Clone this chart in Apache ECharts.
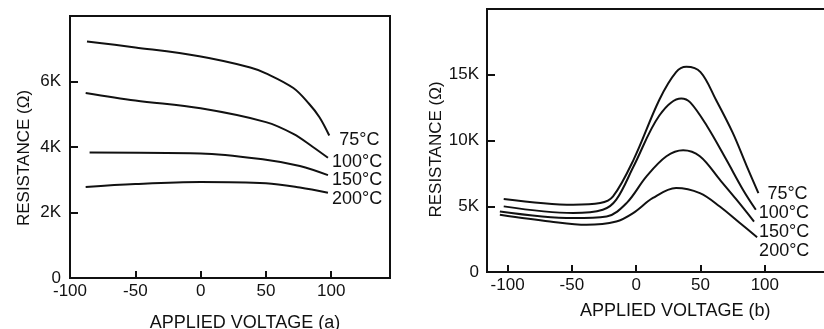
<!DOCTYPE html>
<html>
<head>
<meta charset="utf-8">
<script src="https://cdn.jsdelivr.net/npm/echarts@6/dist/echarts.min.js"></script>
<style>
  html, body { margin: 0; padding: 0; background: #fff; }
  #chart { width: 824px; height: 329px; }
</style>
</head>
<body>
<div id="chart"></div>
<script>
// Panel (a): resistance (kΩ) vs applied voltage (V)
const aV75  = [-87, -50, -1, 38, 50, 71, 83, 91, 98.5];
const aR75  = [7.22, 7.04, 6.77, 6.43, 6.25, 5.80, 5.32, 4.91, 4.35];
const aV100 = [-88, -50, 0, 50, 71, 86, 97.5];
const aR100 = [5.65, 5.42, 5.18, 4.76, 4.40, 4.00, 3.67];
const aV150 = [-85, 0, 50, 76, 97.5];
const aR150 = [3.83, 3.80, 3.61, 3.42, 3.14];
const aV200 = [-88, -50, 0, 50, 76, 97.5];
const aR200 = [2.78, 2.87, 2.93, 2.89, 2.76, 2.60];

// Panel (b)
const bV75  = [-103, -49, -28, -18, -2, 18, 31, 39, 50, 62, 75, 86, 95];
const bR75  = [5.55, 5.11, 5.24, 5.75, 8.55, 13.1, 15.2, 15.6, 15.2, 13.1, 10.6, 8.04, 6.0];
const bV100 = [-103, -49, -26, -15.5, -2, 18, 35, 42, 55, 70, 83, 93];
const bR100 = [4.99, 4.48, 4.73, 5.5, 8.04, 11.9, 13.2, 12.9, 11.1, 8.55, 6.26, 4.73];
const bV150 = [-106, -49, -23, -7.5, 8, 23.5, 36.5, 49.5, 65, 78, 91.6];
const bR150 = [4.6, 4.1, 4.22, 5.24, 7.27, 8.8, 9.26, 8.8, 7.02, 5.5, 3.84];
const bV200 = [-106, -67, -38.6, -15.5, -2.4, 13, 31, 49.5, 65, 80.6, 94];
const bR200 = [4.35, 3.84, 3.59, 3.84, 4.48, 5.63, 6.39, 6.0, 4.98, 3.72, 2.65];

const tempLabels = ['75°C', '100°C', '150°C', '200°C'];
const voltStep = 50;       // V between voltage ticks
const voltTickMax = 100;   // last labelled voltage tick
const FONT = "'Liberation Sans', Arial, sans-serif";
const INK = '#111';

// Panel (b) voltage range and pixel scale: the axis frame starts a little
// left of -100 V, so its voltage ticks live on a companion axis starting at -100.
const bMin = -116, bMax = 146, bLeft = 487, bWidth = 337;
const bScale = bWidth / (bMax - bMin);

// Grid rectangles (fixed; no automatic shrinking to fit labels)
const rect = (r) => Object.assign({ outerBoundsMode: 'none', containLabel: false }, r);
const rectA = { left: 70, top: 16, width: 320, height: 262 };
const rectB = { left: bLeft, top: 9, width: bWidth, height: 263 };
const rectBV = { left: bLeft + (-100 - bMin) * bScale, top: 9, width: (voltTickMax + 100) * bScale, height: 263 };

const zip = (xs, ys) => xs.map((x, i) => [x, ys[i]]);
const ls = () => ({ color: INK, width: 2 });
const textStyle = (size, extra) => Object.assign({ color: INK, fontFamily: FONT, fontSize: size }, extra);
const inTick = (len) => ({ show: true, inside: true, length: len, lineStyle: ls() });

function curve(name, xs, ys, xi, yi, offset) {
  return {
    type: 'line', name, xAxisIndex: xi, yAxisIndex: yi,
    data: zip(xs, ys), smooth: 0.35, symbol: 'none', clip: false,
    lineStyle: ls(),
    endLabel: textStyle(18, { show: true, formatter: name, distance: 0, offset: offset, align: 'left' }),
    silent: true, animation: false
  };
}

const voltLabel = () => textStyle(17, {
  margin: 5, formatter: v => (v > voltTickMax ? '' : String(v))
});

// Resistance axis with labels and title
function yAxisFor(gi, max, step, gap, pad, margin) {
  return {
    gridIndex: gi, type: 'value', min: 0, max, interval: step,
    axisLine: { show: true, onZero: false, lineStyle: ls() },
    axisTick: inTick(8),
    axisLabel: textStyle(17, {
      margin, formatter: v => (v === 0 ? '0' : v === max ? '' : v + 'K')
    }),
    splitLine: { show: false },
    name: 'RESISTANCE (Ω)', nameLocation: 'middle', nameGap: gap,
    nameTextStyle: textStyle(17, { padding: [0, pad, 0, 0] })
  };
}

// Plain axis carrying only a line and inward tick marks
function tickAxis(gi, min, max, step, len, showTicks, showLine) {
  const ax = {
    gridIndex: gi, type: 'value', min, max,
    axisLine: { show: showLine, onZero: false, lineStyle: ls() },
    axisTick: showTicks ? inTick(len) : { show: false },
    axisLabel: { show: false },
    splitLine: { show: false }
  };
  if (step) ax.interval = step;
  return ax;
}

const option = {
  backgroundColor: '#fff',
  animation: false,
  grid: [
    rect(Object.assign({ show: true, borderColor: INK, borderWidth: 2 }, rectA)), // 0: panel (a)
    rect(rectB),   // 1: panel (b)
    rect(rectBV),  // 2: panel (b) voltage labels
    rect(rectA),   // 3: panel (a) ticks
    rect(rectB),   // 4: panel (b) resistance ticks
    rect(rectBV)   // 5: panel (b) voltage ticks
  ],
  xAxis: [
    {
      gridIndex: 0, type: 'value', min: -100, max: 145, interval: voltStep,
      axisLine: { show: true, onZero: false, lineStyle: ls() },
      axisTick: inTick(7),
      axisLabel: voltLabel(),
      splitLine: { show: false },
      name: 'APPLIED VOLTAGE (a)', nameLocation: 'middle', nameGap: 36,
      nameTextStyle: textStyle(18, { padding: [0, 0, 0, 30] })
    },
    tickAxis(1, bMin, bMax, null, 0, false, true),
    Object.assign(tickAxis(1, bMin, bMax, null, 0, false, true), { position: 'top' }),
    {
      gridIndex: 2, type: 'value', min: -100, max: voltTickMax, interval: voltStep,
      axisLine: { show: false, onZero: false },
      axisTick: inTick(7),
      axisLabel: voltLabel(),
      splitLine: { show: false },
      name: 'APPLIED VOLTAGE (b)', nameLocation: 'middle', nameGap: 30,
      nameTextStyle: textStyle(18, { padding: [0, 0, 0, 78] })
    },
    tickAxis(3, -100, 145, voltStep, 7, true, true),
    tickAxis(4, -100, 150, voltStep, 7, false, true),
    tickAxis(5, -100, voltTickMax, voltStep, 7, true, true)
  ],
  yAxis: [
    yAxisFor(0, 8, 2, 37, 22, 9),
    yAxisFor(1, 20, 5, 38, 18, 8),
    { gridIndex: 2, type: 'value', min: 0, max: 20, show: false },
    tickAxis(3, 0, 8, 2, 8, true, true),
    tickAxis(4, 0, 20, 5, 8, true, true),
    tickAxis(5, 0, 20, 5, 8, false, false)
  ],
  series: [
    curve(tempLabels[0], aV75, aR75, 0, 0, [10, 4]),
    curve(tempLabels[1], aV100, aR100, 0, 0, [4, 4]),
    curve(tempLabels[2], aV150, aR150, 0, 0, [4, 5]),
    curve(tempLabels[3], aV200, aR200, 0, 0, [4, 6]),
    curve(tempLabels[0], bV75, bR75, 1, 1, [9, 1]),
    curve(tempLabels[1], bV100, bR100, 1, 1, [3, 3]),
    curve(tempLabels[2], bV150, bR150, 1, 1, [5, 11]),
    curve(tempLabels[3], bV200, bR200, 1, 1, [2, 14])
  ]
};

const chart = echarts.init(document.getElementById('chart'), null, { renderer: 'canvas' });
chart.setOption(option);
</script>
</body>
</html>
